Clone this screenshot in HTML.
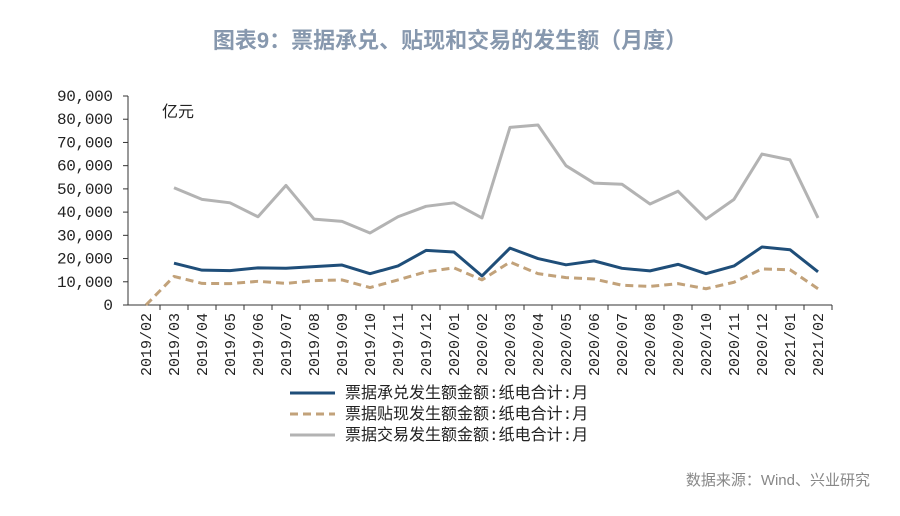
<!DOCTYPE html>
<html><head><meta charset="utf-8"><style>
body{margin:0;background:#fff;width:900px;height:511px;overflow:hidden;font-family:"Liberation Sans","Noto Sans CJK SC",sans-serif}
</style></head><body>
<svg width="900" height="511" id="c">
<text x="450" y="48" text-anchor="middle" font-size="22" font-weight="bold" fill="#8798ae" font-family="Liberation Sans,Noto Sans CJK SC,sans-serif">图表9：票据承兑、贴现和交易的发生额（月度）</text>
<text x="162" y="117" font-size="16" fill="#222" font-family="Noto Sans CJK SC,sans-serif">亿元</text>
<text x="870" y="485" text-anchor="end" font-size="15" fill="#888" font-family="Liberation Sans,Noto Sans CJK SC,sans-serif">数据来源：Wind、兴业研究</text>
<g id="g"></g>
</svg>
<script>
const categories=["2019/02","2019/03","2019/04","2019/05","2019/06","2019/07","2019/08","2019/09","2019/10","2019/11","2019/12","2020/01","2020/02","2020/03","2020/04","2020/05","2020/06","2020/07","2020/08","2020/09","2020/10","2020/11","2020/12","2021/01","2021/02"];
const acceptance=[null,18000,15000,14800,16000,15800,16500,17200,13500,16800,23500,22800,12500,24500,20000,17300,19000,15800,14700,17500,13500,16800,25000,23800,14300];
const discount=[0,12300,9300,9200,10200,9300,10500,10800,7500,10800,14300,16000,10800,18500,13500,11800,11200,8500,8000,9200,7000,9800,15500,15200,7000];
const trading=[null,50500,45500,44000,38000,51500,37000,36000,31000,38000,42500,44000,37500,76500,77500,60000,52500,52000,43500,49000,37000,45500,65000,62500,37500];
const yTicks=[0,10000,20000,30000,40000,50000,60000,70000,80000,90000];
const seriesNames=["票据承兑发生额金额:纸电合计:月","票据贴现发生额金额:纸电合计:月","票据交易发生额金额:纸电合计:月"];
const NS="http://www.w3.org/2000/svg",g=document.getElementById("g");
const x0=132,step=28,y0=305,yTop=96,ymax=90000;
const xs=i=>x0+step*(i+0.5);
const ys=v=>y0-(v/ymax)*(y0-yTop);
function mk(t,a,p){const e=document.createElementNS(NS,t);for(const k in a)e.setAttribute(k,a[k]);(p||g).appendChild(e);return e;}
let e=mk("line",{x1:128,y1:yTop,x2:128,y2:y0,stroke:"#333"});


yTicks.forEach(v=>{const y=ys(v);
 let t=mk("line",{x1:123,y1:y,x2:128,y2:y,stroke:"#333"});
 
 
 let l=mk("text",{x:113,y:y+5,"text-anchor":"end","font-size":16,fill:"#222","font-family":"Liberation Mono,monospace","textLength":v===0?null:56});
 if(v===0)l.removeAttribute("textLength");
 l.textContent=v===0?"0":(v/1000)+",000";
 
 
});
e=mk("line",{x1:128,y1:y0,x2:x0+step*categories.length,y2:y0,stroke:"#333"});


categories.forEach((c,i)=>{
 let t=mk("line",{x1:x0+step*(i+1),y1:y0,x2:x0+step*(i+1),y2:y0+5,stroke:"#333"});
 
 
 let l=mk("text",{transform:`translate(${xs(i)+5},${y0+8}) rotate(-90)`,"text-anchor":"end","font-size":15,fill:"#222","font-family":"Liberation Mono,monospace"});
 l.textContent=c;
 
 
});
function line(data,color,w,dash,name){
 let d="";data.forEach((v,i)=>{if(v===null)return;d+=(d?"L":"M")+xs(i)+","+ys(v);});
 let p=mk("path",{d:d,fill:"none",stroke:color,"stroke-width":w,"stroke-dasharray":dash||"none","stroke-linejoin":"round"});
 
 
}
line(trading,"#b3b3b3",3,null,"trading-line");
line(discount,"#c2a27a",3,"8,5","discount-line");
line(acceptance,"#1f4e79",3,null,"acceptance-line");
const lc=["#1f4e79","#c2a27a","#b3b3b3"],ld=[null,"8,5",null];
seriesNames.forEach((n,i)=>{const y=393+i*21;
 let s=mk("line",{x1:290,y1:y,x2:335,y2:y,stroke:lc[i],"stroke-width":3,"stroke-dasharray":ld[i]||"none"});
 
 
 let t=mk("text",{x:345,y:y+5,"font-size":16,fill:"#222","font-family":"Liberation Mono,Noto Sans CJK SC,monospace"});
 t.textContent=n;
 
 
});
</script>
</body></html>
